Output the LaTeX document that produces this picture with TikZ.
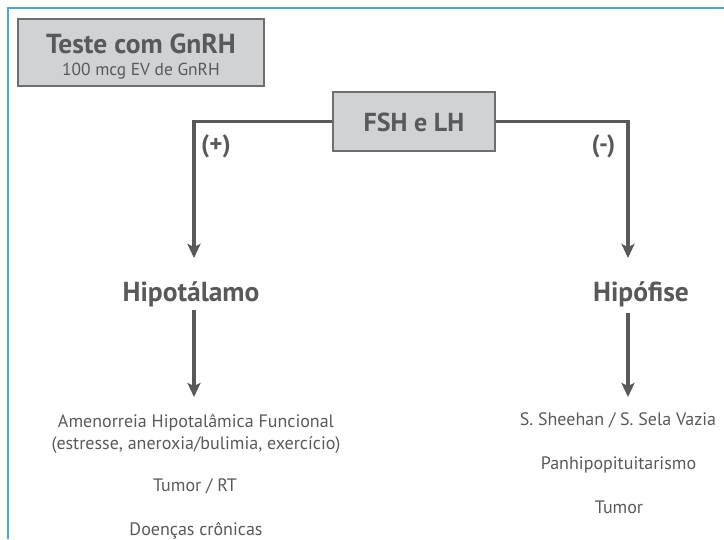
\documentclass[tikz,border=0pt]{standalone}
\usepackage{fontspec}
\setmainfont{PT Sans}
\usetikzlibrary{arrows.meta}
\definecolor{framec}{HTML}{4AA9CF}
\definecolor{boxfill}{HTML}{D1D2D4}
\definecolor{boxdraw}{HTML}{6D6E70}
\definecolor{txt}{HTML}{58595B}
\tikzset{
  frameline/.style={draw=framec, line width=2pt},
  graybox/.style={draw=boxdraw, fill=boxfill, line width=1.3pt, inner sep=0pt},
  conn/.style={draw=txt, line width=3.1pt, -{Stealth[width=13pt,length=14pt,inset=3pt]}},
  bigtxt/.style={text=txt, font=\fontsize{27.5}{30}\selectfont\bfseries, inner sep=0pt, anchor=base},
  smalltxt/.style={text=txt, font=\fontsize{18}{22}\selectfont, inner sep=0pt, anchor=base},
  sign/.style={text=txt, font=\fontsize{25}{28}\selectfont\bfseries, inner sep=0pt, anchor=base}
}
\begin{document}
\begin{tikzpicture}[x=1pt,y=-1pt]
\useasboundingbox (0,0) rectangle (724,539);
\coordinate (fa) at (8,539);
\coordinate (fb) at (8,8);
\coordinate (fc) at (724,8);
\draw[frameline] (fa) -- (fb) -- (fc);
\node[graybox, minimum width=246pt, minimum height=67pt] (teste) at (141,52.5) {};
\node[bigtxt] (testet) at (141,53) {Teste com GnRH};
\node[smalltxt, font=\fontsize{17.4}{20}\selectfont] (testes) at (141,75.5) {100 mcg EV de GnRH};
\node[graybox, minimum width=162pt, minimum height=59pt] (fsh) at (414,121.5) {};
\node[bigtxt, font=\fontsize{26}{30}\selectfont\bfseries] (fsht) at (414,131.5) {FSH e LH};
\node[bigtxt] (hipo) at (191,301) {Hipotálamo};
\node[bigtxt] (hipof) at (641,301.5) {Hipófise};
\node[sign] (plus) at (216,152) {(+)};
\node[sign] (minus) at (603.5,152) {(-)};
\node[smalltxt] (amen) at (196,427) {Amenorreia Hipotalâmica Funcional};
\node[smalltxt] (amen2) at (196,449) {(estresse, aneroxia/bulimia, exercício)};
\node[smalltxt] (tumrt) at (195,491.5) {Tumor / RT};
\node[smalltxt] (doen) at (196,535) {Doenças crônicas};
\node[smalltxt] (shee) at (618,425) {S. Sheehan / S. Sela Vazia};
\node[smalltxt] (panh) at (618.5,469) {Panhipopituitarismo};
\node[smalltxt] (tumr) at (619,513) {Tumor};
\coordinate (lt) at (194,258);
\coordinate (rt) at (628,258);
\coordinate (l2s) at (194,310);
\coordinate (l2e) at (194,397);
\coordinate (r2s) at (628,313);
\coordinate (r2e) at (628,397);
\draw[conn] (fsh.west) -| (lt);
\draw[conn] (fsh.east) -| (rt);
\draw[conn] (l2s) -- (l2e);
\draw[conn] (r2s) -- (r2e);
\end{tikzpicture}
\end{document}
